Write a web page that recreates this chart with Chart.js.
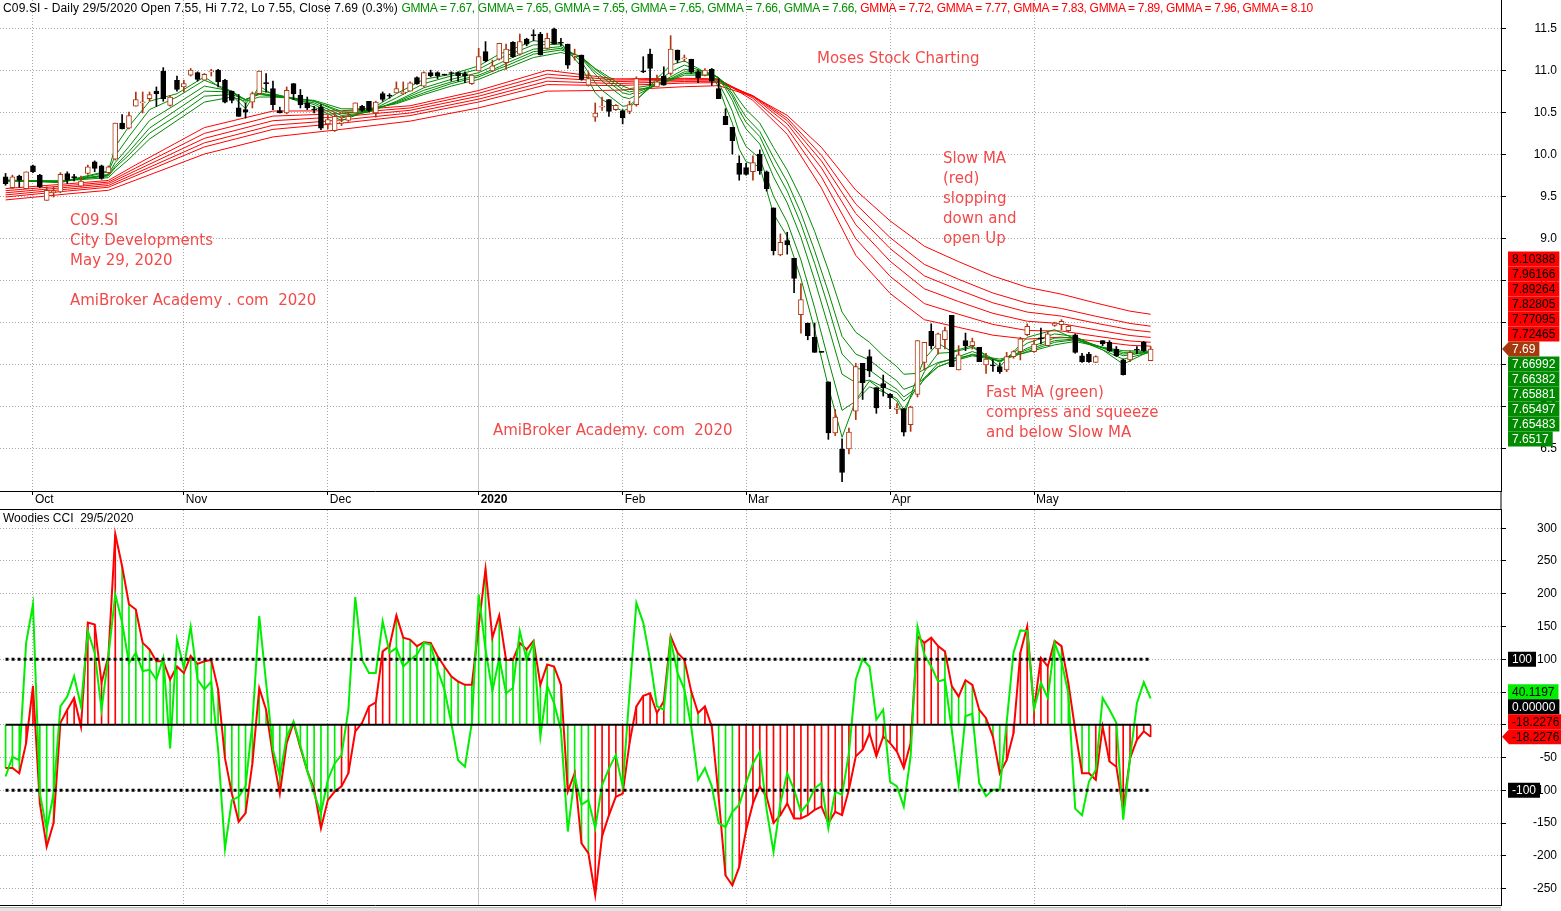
<!DOCTYPE html>
<html>
<head>
<meta charset="utf-8">
<title>C09.SI - GMMA and Woodies CCI</title>
<script src="https://cdn.jsdelivr.net/npm/chart.js@4.4.1/dist/chart.umd.min.js"></script>
<style>
  html, body { margin: 0; padding: 0; background: #fff; }
  #wrap { position: relative; width: 1561px; height: 911px; overflow: hidden; font-family: "Liberation Sans", Arial, sans-serif; }
  canvas { position: absolute; left: 0; }
  #priceChart { top: 0; }
  #cciChart { top: 510px; }
  .hdr { position: absolute; left: 3px; font-size: 12px; line-height: 14px; white-space: pre; color: #000; z-index: 2; }
  .hdr .lead { letter-spacing: 0.15px; }
  .g { color: #009000; letter-spacing: -0.3px; }
  .r { color: #ff0000; letter-spacing: -0.3px; }
  .note { position: absolute; color: #f24a4a; font: 15px "DejaVu Sans", sans-serif; line-height: 20px; white-space: pre; z-index: 2; }
  #scroll { position: absolute; left: 0; top: 907px; width: 1501px; height: 4px; background: #e4e4e4; border-top: 1px solid #b0b0b0; }
</style>
</head>
<body>
<div id="wrap">
  <canvas id="priceChart" width="1561" height="510"></canvas>
  <canvas id="cciChart" width="1561" height="401"></canvas>
  <div id="scroll"></div>
  <div class="hdr" id="priceTitle" style="top:1px"></div>
  <div class="hdr" id="cciTitle" style="top:511px"></div>

  <div class="note" style="left:817px;top:48px">Moses Stock Charting</div>
  <div class="note" style="left:943px;top:148px">Slow MA
(red)
slopping
down and
open Up</div>
  <div class="note" style="left:70px;top:210px">C09.SI
City Developments
May 29, 2020</div>
  <div class="note" style="left:70px;top:290px">AmiBroker Academy . com  2020</div>
  <div class="note" style="left:493px;top:420px">AmiBroker Academy. com  2020</div>
  <div class="note" style="left:986px;top:382px">Fast MA (green)
compress and squeeze
and below Slow MA</div>
</div>

<script>
// ---- data ----
const ticker = 'C09.SI';
const lastDate = '29/5/2020';

const monthBars = [4, 26, 47, 69, 90, 108, 129, 150];
const monthLabels = ['Oct', 'Nov', 'Dec', '2020', 'Feb', 'Mar', 'Apr', 'May'];
const priceTicks = [6.5, 7.0, 7.5, 8.0, 8.5, 9.0, 9.5, 10.0, 10.5, 11.0, 11.5];
const cciTicks = [-250, -200, -150, -100, -50, 0, 50, 100, 150, 200, 250, 300];
const cciLevels = [100, -100];

const opens = [
  9.74, 9.61, 9.75, 9.60, 9.87, 9.76, 9.46, 9.55, 9.56, 9.78,
  9.73, 9.63, 9.78, 9.92, 9.87, 9.79, 9.95, 10.38, 10.32, 10.58,
  10.62, 10.67, 10.76, 11.00, 10.59, 10.89, 10.81, 10.95, 10.98, 10.89,
  10.99, 11.01, 10.89, 10.76, 10.56, 10.54, 10.63, 10.73, 10.86, 10.79,
  10.53, 10.50, 10.85, 10.71, 10.62, 10.54, 10.57, 10.37, 10.29, 10.38,
  10.41, 10.50, 10.58, 10.64, 10.50, 10.73, 10.70, 10.74, 10.73, 10.76,
  10.92, 10.82, 10.98, 10.98, 10.95, 10.97, 10.98, 10.97, 10.85, 11.00,
  11.23, 11.00, 11.14, 11.10, 11.34, 11.20, 11.38, 11.42, 11.44, 11.27,
  11.50, 11.33, 11.32, 11.18, 11.19, 10.83, 10.45, 10.57, 10.66, 10.54,
  10.52, 10.52, 10.60, 10.99, 11.20, 10.81, 10.94, 10.97, 11.25, 11.145,
  11.14, 10.99, 10.95, 11.02, 10.79, 10.46, 10.33, 9.90, 9.85, 9.80,
  10.01, 9.80, 9.37, 8.81, 8.98, 8.77, 8.10, 8.00, 7.83, 7.65,
  7.30, 6.69, 6.50, 6.50, 6.95, 7.52, 7.60, 7.23, 7.28, 7.15,
  6.97, 6.98, 6.79, 7.15, 7.53, 7.90, 7.69, 7.80, 8.09, 7.44,
  7.79, 7.73, 7.71, 7.50, 7.49, 7.48, 7.44, 7.60, 7.66, 7.86,
  7.66, 7.81, 7.73, 7.97, 7.98, 7.91, 7.86, 7.61, 7.63, 7.53,
  7.79, 7.77, 7.69, 7.56, 7.56, 7.675, 7.77, 7.55
];
const highs = [
  9.78, 9.76, 9.76, 9.80, 9.88, 9.77, 9.62, 9.62, 9.79, 9.80,
  9.77, 9.75, 9.88, 9.93, 9.88, 9.87, 10.38, 10.48, 10.51, 10.75,
  10.75, 10.75, 10.81, 11.04, 10.71, 10.94, 10.89, 11.03, 10.99, 10.97,
  11.02, 11.02, 10.90, 10.76, 10.72, 10.62, 10.75, 11.00, 10.97, 10.88,
  10.57, 10.81, 10.85, 10.78, 10.69, 10.58, 10.60, 10.47, 10.50, 10.44,
  10.50, 10.62, 10.59, 10.64, 10.64, 10.75, 10.73, 10.87, 10.87, 10.87,
  10.93, 10.99, 11.01, 10.99, 10.95, 10.99, 10.99, 10.99, 10.95, 11.27,
  11.35, 11.13, 11.33, 11.32, 11.35, 11.44, 11.39, 11.49, 11.46, 11.45,
  11.51, 11.39, 11.32, 11.26, 11.19, 10.99, 10.62, 10.69, 10.66, 10.60,
  10.54, 10.64, 10.93, 11.17, 11.26, 10.95, 11.05, 11.42, 11.25, 11.19,
  11.14, 11.01, 11.03, 11.03, 10.91, 10.55, 10.33, 9.99, 9.90, 9.99,
  10.06, 9.81, 9.37, 9.06, 9.08, 8.77, 8.47, 8.00, 8.00, 7.65,
  7.30, 6.97, 6.62, 6.75, 7.52, 7.52, 7.68, 7.23, 7.38, 7.16,
  7.04, 6.98, 7.01, 7.79, 7.77, 7.99, 7.88, 7.95, 8.09, 7.73,
  7.88, 7.82, 7.71, 7.64, 7.56, 7.52, 7.65, 7.67, 7.83, 7.99,
  7.79, 7.94, 7.90, 8.01, 8.04, 7.97, 7.87, 7.64, 7.65, 7.61,
  7.79, 7.79, 7.72, 7.57, 7.67, 7.72, 7.78, 7.72
];
const lows = [
  9.64, 9.60, 9.62, 9.60, 9.79, 9.61, 9.46, 9.50, 9.55, 9.66,
  9.69, 9.62, 9.77, 9.80, 9.71, 9.78, 9.94, 10.31, 10.31, 10.58,
  10.50, 10.64, 10.58, 10.64, 10.58, 10.76, 10.75, 10.94, 10.88, 10.89,
  10.94, 10.81, 10.62, 10.62, 10.46, 10.44, 10.56, 10.72, 10.75, 10.54,
  10.50, 10.49, 10.66, 10.56, 10.54, 10.50, 10.30, 10.31, 10.28, 10.35,
  10.40, 10.50, 10.52, 10.52, 10.45, 10.64, 10.675, 10.74, 10.72, 10.76,
  10.84, 10.81, 10.93, 10.91, 10.95, 10.88, 10.88, 10.86, 10.84, 11.00,
  11.11, 10.99, 11.13, 11.02, 11.16, 11.19, 11.30, 11.36, 11.19, 11.26,
  11.32, 11.30, 11.03, 11.13, 10.89, 10.82, 10.40, 10.53, 10.46, 10.53,
  10.37, 10.49, 10.58, 10.98, 10.83, 10.81, 10.83, 10.95, 11.10, 11.11,
  10.97, 10.86, 10.94, 10.83, 10.67, 10.36, 10.01, 9.70, 9.76, 9.70,
  9.77, 9.57, 8.81, 8.80, 8.82, 8.36, 7.88, 7.80, 7.65, 7.65,
  6.615, 6.66, 6.11, 6.44, 6.85, 7.09, 7.36, 6.925, 7.13, 6.98,
  6.92, 6.655, 6.71, 7.12, 7.44, 7.69, 7.63, 7.69, 7.48, 7.44,
  7.67, 7.69, 7.54, 7.40, 7.425, 7.40, 7.42, 7.58, 7.56, 7.85,
  7.65, 7.75, 7.73, 7.96, 7.92, 7.89, 7.64, 7.53, 7.53, 7.53,
  7.73, 7.66, 7.60, 7.38, 7.54, 7.635, 7.66, 7.55
];
const closes = [
  9.66, 9.74, 9.70, 9.80, 9.80, 9.62, 9.58, 9.57, 9.77, 9.70,
  9.73, 9.69, 9.86, 9.84, 9.72, 9.86, 10.38, 10.31, 10.47, 10.66,
  10.63, 10.72, 10.73, 10.67, 10.69, 10.78, 10.85, 11.01, 10.90, 10.96,
  11.00, 10.87, 10.63, 10.65, 10.46, 10.51, 10.73, 11.00, 10.85, 10.60,
  10.50, 10.77, 10.73, 10.60, 10.56, 10.535, 10.32, 10.42, 10.46, 10.385,
  10.46, 10.62, 10.53, 10.53, 10.63, 10.66, 10.70, 10.79, 10.75, 10.86,
  10.85, 10.98, 10.94, 10.94, 10.95, 10.97, 10.94, 10.94, 10.95, 11.17,
  11.12, 11.06, 11.33, 11.26, 11.17, 11.35, 11.32, 11.42, 11.19, 11.39,
  11.32, 11.33, 11.07, 11.19, 10.90, 10.91, 10.50, 10.575, 10.52, 10.59,
  10.44, 10.60, 10.91, 10.99, 11.03, 10.87, 10.83, 11.26, 11.13, 11.15,
  10.99, 10.92, 11.01, 10.88, 10.67, 10.36, 10.17, 9.77, 9.77, 9.91,
  9.81, 9.60, 8.86, 8.96, 8.93, 8.53, 8.28, 7.85, 7.65, 7.65,
  6.69, 6.88, 6.22, 6.70, 7.48, 7.29, 7.43, 6.99, 7.23, 7.11,
  6.99, 6.70, 7.00, 7.79, 7.77, 7.73, 7.87, 7.91, 7.48, 7.62,
  7.73, 7.78, 7.54, 7.57, 7.49, 7.42, 7.60, 7.66, 7.81, 7.96,
  7.75, 7.81, 7.87, 8.00, 8.02, 7.96, 7.65, 7.54, 7.54, 7.60,
  7.75, 7.67, 7.61, 7.385, 7.65, 7.675, 7.67, 7.69
];

// fast GMMA (green), read at these bars
const gmmaFastBars = [0, 8, 15, 16, 18, 21, 25, 29, 33, 35, 37, 39, 41, 45, 49, 53, 57, 61, 65, 69,
  72, 73, 77, 81, 84, 86, 87, 90, 91, 95, 97, 99, 103, 104, 105, 106, 107, 108, 110, 112,
  114, 116, 118, 120, 122, 124, 126, 128, 130, 131, 133, 134, 136, 138, 141, 145, 149, 153, 156, 160,
  163, 167];
const gmma3 = [9.69, 9.68, 9.81, 10.10, 10.34, 10.64, 10.73, 10.93, 10.71, 10.55, 10.82, 10.72, 10.69, 10.57, 10.41,
  10.53, 10.73, 10.90, 10.96, 11.06, 11.20, 11.23, 11.36, 11.33, 11.05, 10.74, 10.66, 10.52, 10.56, 10.91,
  11.07, 11.12, 10.94, 10.81, 10.58, 10.38, 10.07, 9.92, 9.86, 9.30, 9.03, 8.53, 7.92, 7.24, 6.64,
  7.08, 7.31, 7.19, 7.07, 6.89, 7.37, 7.57, 7.76, 7.66, 7.73, 7.48, 7.83, 7.92, 7.81, 7.68, 7.51, 7.66992];
const gmma5 = [9.70, 9.67, 9.80, 9.99, 10.22, 10.54, 10.69, 10.89, 10.76, 10.61, 10.77, 10.73, 10.69, 10.60, 10.44,
  10.52, 10.68, 10.85, 10.94, 11.02, 11.15, 11.18, 11.31, 11.32, 11.11, 10.86, 10.77, 10.58, 10.59, 10.87,
  10.99, 11.07, 10.96, 10.86, 10.70, 10.52, 10.27, 10.10, 9.96, 9.51, 9.20, 8.75, 8.18, 7.56, 6.96,
  7.07, 7.24, 7.18, 7.10, 6.97, 7.25, 7.42, 7.64, 7.65, 7.71, 7.53, 7.76, 7.87, 7.84, 7.68, 7.57, 7.6517];
const gmma8 = [9.70, 9.68, 9.77, 9.91, 10.10, 10.41, 10.61, 10.82, 10.76, 10.65, 10.74, 10.71, 10.68, 10.62, 10.47,
  10.51, 10.64, 10.80, 10.90, 10.98, 11.09, 11.13, 11.26, 11.29, 11.15, 10.96, 10.88, 10.69, 10.67, 10.84,
  10.93, 11.02, 10.97, 10.91, 10.79, 10.65, 10.46, 10.31, 10.13, 9.74, 9.43, 9.02, 8.51, 7.96, 7.39,
  7.29, 7.32, 7.24, 7.17, 7.07, 7.22, 7.34, 7.52, 7.57, 7.66, 7.54, 7.70, 7.82, 7.83, 7.70, 7.61, 7.65483];
const gmma10 = [9.70, 9.69, 9.76, 9.87, 10.04, 10.32, 10.54, 10.76, 10.75, 10.66, 10.73, 10.70, 10.69, 10.64, 10.50,
  10.52, 10.63, 10.77, 10.87, 10.95, 11.05, 11.09, 11.23, 11.27, 11.16, 10.99, 10.93, 10.74, 10.72, 10.83,
  10.91, 10.99, 10.97, 10.92, 10.82, 10.70, 10.53, 10.39, 10.22, 9.87, 9.57, 9.18, 8.71, 8.19, 7.63,
  7.46, 7.44, 7.32, 7.21, 7.12, 7.23, 7.33, 7.48, 7.54, 7.63, 7.55, 7.68, 7.79, 7.81, 7.71, 7.63, 7.65497];
const gmma12 = [9.69, 9.69, 9.75, 9.85, 10.00, 10.26, 10.47, 10.70, 10.72, 10.66, 10.72, 10.70, 10.69, 10.64, 10.52,
  10.53, 10.62, 10.74, 10.85, 10.93, 11.03, 11.06, 11.20, 11.25, 11.17, 11.02, 10.96, 10.78, 10.75, 10.83,
  10.90, 10.97, 10.96, 10.92, 10.84, 10.73, 10.58, 10.45, 10.28, 9.97, 9.68, 9.31, 8.86, 8.37, 7.84,
  7.63, 7.56, 7.43, 7.31, 7.21, 7.27, 7.35, 7.48, 7.54, 7.61, 7.55, 7.66, 7.77, 7.80, 7.71, 7.65, 7.65881];
const gmma15 = [9.69, 9.69, 9.73, 9.81, 9.95, 10.19, 10.41, 10.63, 10.69, 10.64, 10.69, 10.69, 10.68, 10.65, 10.55,
  10.55, 10.61, 10.72, 10.82, 10.90, 11.00, 11.03, 11.16, 11.22, 11.16, 11.03, 10.98, 10.82, 10.79, 10.84,
  10.89, 10.95, 10.95, 10.92, 10.85, 10.77, 10.65, 10.54, 10.38, 10.09, 9.82, 9.49, 9.09, 8.63, 8.13,
  7.89, 7.77, 7.61, 7.48, 7.39, 7.40, 7.45, 7.53, 7.57, 7.62, 7.57, 7.65, 7.74, 7.78, 7.71, 7.67, 7.66382];

// slow GMMA (red), read at these bars
const gmmaSlowBars = [0, 9, 15, 19, 29, 39, 49, 59, 69, 79, 89, 99, 104, 109, 114, 119, 124, 129, 134, 139,
  144, 149, 154, 159, 164, 167];
const gmma30 = [9.60, 9.656, 9.697, 9.883, 10.326, 10.523, 10.526, 10.586, 10.768, 11.008, 10.906, 10.913, 10.906,
  10.649, 10.246, 9.605, 8.805, 8.352, 8.039, 7.948, 7.855, 7.808, 7.832, 7.783, 7.734, 7.72465];
const gmma35 = [9.575, 9.635, 9.677, 9.846, 10.257, 10.463, 10.492, 10.560, 10.734, 10.963, 10.892, 10.904, 10.900,
  10.676, 10.316, 9.737, 9.003, 8.556, 8.231, 8.104, 7.983, 7.910, 7.905, 7.844, 7.786, 7.77095];
const gmma40 = [9.55, 9.615, 9.658, 9.814, 10.198, 10.408, 10.456, 10.532, 10.700, 10.921, 10.873, 10.892, 10.892,
  10.695, 10.371, 9.845, 9.170, 8.736, 8.407, 8.255, 8.115, 8.021, 7.992, 7.919, 7.851, 7.82805];
const gmma45 = [9.525, 9.593, 9.637, 9.782, 10.144, 10.354, 10.417, 10.500, 10.665, 10.878, 10.850, 10.875, 10.878,
  10.703, 10.410, 9.928, 9.303, 8.887, 8.561, 8.394, 8.240, 8.130, 8.082, 7.998, 7.920, 7.89264];
const gmma50 = [9.50, 9.571, 9.616, 9.753, 10.096, 10.305, 10.379, 10.469, 10.631, 10.838, 10.825, 10.856, 10.862,
  10.706, 10.439, 9.996, 9.416, 9.017, 8.697, 8.520, 8.357, 8.236, 8.173, 8.080, 7.995, 7.96166];
const gmma60 = [9.465, 9.536, 9.580, 9.702, 10.011, 10.215, 10.305, 10.403, 10.561, 10.760, 10.771, 10.813, 10.825,
  10.698, 10.472, 10.089, 9.581, 9.216, 8.914, 8.730, 8.559, 8.425, 8.343, 8.238, 8.141, 8.10388];

// Woodies CCI: turbo line (green) and CCI line (red), one value per bar
const cciTurbo = [
  -79, -49, -54, 125, 184, -105, -160, -105, 28, 43,
  74, 28, 143, 110, 23, 105, 199, 156, 94, 110,
  82, 84, 69, 102, -36, 130, 87, 150, 69, 54,
  66, -38, -189, -115, -110, -94, 3, 166, 64, -38,
  -79, -18, 5, -32, -70, -105, -135, -84, -59, -46,
  23, 195, 99, 79, 79, 158, 110, 117, 89, 99,
  107, 125, 122, 84, 54, 3, -54, -64, 3, 199,
  115, 51, 102, 48, 56, 143, 99, 125, -18, 59,
  33, -8, -163, -79, -122, -115, -158, -92, -67, -46,
  -94, 48, 186, 156, 99, 28, 23, 130, 79, 54,
  -3, -84, -66, -94, -150, -156, -133, -122, -89, -59,
  -41, -130, -194, -120, -74, -99, -133, -120, -97, -89,
  -158, -102, -107, -43, 69, 100, 89, 8, 23, -87,
  -94, -125, -48, 150, 107, 89, 66, 69, -8, -92,
  13, 17, -89, -109, -99, -99, 3, 110, 144, 143,
  24, 64, 41, 125, 97, 48, -128, -138, -87, -69,
  41, 23, 3, -145, -51, 33, 65, 40.1197
];
const cci14 = [
  -66, -66, -74, -28, 59, -120, -186, -150, 3, 23,
  41, -3, 156, 153, 64, 105, 291, 242, 184, 176,
  125, 115, 97, 97, 69, 89, 79, 105, 93, 97,
  99, 54, -51, -105, -148, -135, -59, 56, 23, -48,
  -105, -28, 3, -35, -70, -99, -158, -115, -102, -94,
  -74, -10, 3, 28, 34, 112, 120, 167, 133, 130,
  120, 126, 125, 105, 89, 74, 66, 61, 61, 150,
  238, 133, 167, 99, 99, 125, 115, 128, 61, 92,
  89, 61, -102, -74, -181, -196, -260, -170, -138, -110,
  -105, -28, 28, 44, 48, 18, 36, 135, 110, 99,
  51, 18, 28, -3, -110, -230, -245, -217, -161, -120,
  -94, -110, -150, -138, -120, -143, -143, -138, -130, -125,
  -150, -133, -138, -99, -48, -38, -13, -48, -18, -28,
  -41, -66, -28, 135, 125, 133, 120, 112, 59, 43,
  68, 61, 23, 10, -18, -74, -54, -13, 110, 150,
  23, 102, 89, 128, 120, 64, -8, -74, -74, -84,
  -3, -56, -64, -130, -51, -23, -10, -18.2276
];
// histogram colour per bar: G = green, R = red
const histSide = (
  'GGGRRGGGRRRRRRRRRGGGGGGGGG' +      // Oct
  'GGGGGGGGGGGGGGGGGGGGG' +           // Nov
  'GGRRRRRRRRGGGGGGGGGGGG' +          // Dec
  'GGGGGGGGGGGGGGGGGRRRR' +           // Jan
  'RRRRRRRGGGGGRGGGGR' +              // Feb
  'RRRRRRRRRRRRRRRRRRRRR' +           // Mar
  'RRRRRRRRGGGGGGGGGRRRR' +           // Apr
  'RRRGGGGGGRRRRRRRR'                 // May
).split('');

// ---- view ----
const FONT = '"Liberation Sans", Arial, sans-serif';
const xMin = -0.81, xMax = 218.1;
const UP = '#ac3812';
const FAST_GREEN = '#008a00';
const bars = closes.map((_, i) => i);
const lastOf = a => a[a.length - 1];
const fastSets = [gmma3, gmma5, gmma8, gmma10, gmma12, gmma15];
const slowSets = [gmma30, gmma35, gmma40, gmma45, gmma50, gmma60];

Chart.defaults.font.family = FONT;
Chart.defaults.font.size = 12;
Chart.defaults.color = '#000';

// header texts
(function () {
  const n = closes.length - 1;
  const chg = (closes[n] - closes[n - 1]) / closes[n - 1] * 100;
  const items = [];
  fastSets.forEach(s => items.push(['g', lastOf(s)]));
  slowSets.forEach(s => items.push(['r', lastOf(s)]));
  const parts = items.map(([c, v], i) =>
    '<span class="' + c + '">GMMA = ' + v.toFixed(2) + (i < items.length - 1 ? ', ' : '') + '</span>');
  document.getElementById('priceTitle').innerHTML =
    '<span class="lead">' + ticker + ' - Daily ' + lastDate + ' Open ' + opens[n].toFixed(2) +
    ', Hi ' + highs[n].toFixed(2) + ', Lo ' + lows[n].toFixed(2) + ', Close ' + closes[n].toFixed(2) +
    ' (' + chg.toFixed(1) + '%) </span>' + parts.join('');
  document.getElementById('cciTitle').textContent = 'Woodies CCI  ' + lastDate;
})();

function tagText(v) {
  let s = v.toFixed(5);
  if (v !== 0) s = s.replace(/0+$/, '').replace(/\.$/, '');
  return s;
}

function drawTag(ctx, x0, y, text, bg, fg, arrow) {
  ctx.font = '12px ' + FONT;
  const w = ctx.measureText(text).width;
  const right = Math.min(ctx.canvas.width, x0 + 11 + w + 4);
  ctx.fillStyle = bg;
  ctx.beginPath();
  if (arrow) {
    ctx.moveTo(x0 + 1, y);
    ctx.lineTo(x0 + 8, y - 7.5);
    ctx.lineTo(right, y - 7.5);
    ctx.lineTo(right, y + 7.5);
    ctx.lineTo(x0 + 8, y + 7.5);
  } else {
    ctx.rect(x0 + 7, y - 7.5, right - x0 - 7, 15);
  }
  ctx.closePath();
  ctx.fill();
  ctx.fillStyle = fg;
  ctx.textAlign = 'left';
  ctx.textBaseline = 'middle';
  ctx.fillText(text, x0 + 11, y + 0.5);
}

const isYear = c => c.tick && /^\d{4}$/.test(c.tick.label);

function xScale(showLabels) {
  return {
    type: 'linear', min: xMin, max: xMax, offset: false,
    afterBuildTicks: s => { s.ticks = monthBars.map(v => ({ value: v })); },
    afterFit: s => { s.height = showLabels ? 19 : 6; s.paddingLeft = 0; s.paddingRight = 0; },
    ticks: {
      display: showLabels, autoSkip: false, maxRotation: 0, minRotation: 0,
      align: 'start', labelOffset: 2, padding: -3, color: '#000',
      callback: v => monthLabels[monthBars.indexOf(v)] || '',
      font: c => ({ family: FONT, size: 12, weight: isYear(c) ? 'bold' : 'normal' })
    },
    grid: {
      offset: false, drawTicks: showLabels, tickLength: 4, tickColor: '#000',
      color: c => isYear(c) ? '#c8c8c8' : '#a8a8a8'
    },
    border: { color: '#000', dash: c => isYear(c) ? [] : [1, 2] }
  };
}

function yScale(min, max, ticks, fmt, pad) {
  return {
    position: 'right', min: min, max: max,
    afterBuildTicks: s => { s.ticks = ticks.map(v => ({ value: v })); },
    afterFit: s => { s.width = 56; s.paddingTop = 0; s.paddingBottom = 0; },
    ticks: { callback: fmt, crossAlign: 'far', padding: pad, color: '#000', font: { family: FONT, size: 12 } },
    grid: { color: '#a8a8a8', tickColor: '#000', tickLength: 5 },
    border: { color: '#000', dash: [1, 2] }
  };
}

function lineSet(xs, ys, color, width, order) {
  return {
    type: 'line',
    data: xs.map((x, i) => ({ x: x, y: ys[i] })),
    borderColor: color, borderWidth: width, pointRadius: 0, pointHitRadius: 0,
    tension: 0, fill: false, order: order
  };
}

// ---- price pane ----
const priceExtras = {
  id: 'priceExtras',
  afterDraw(chart) {
    const { ctx, chartArea: a, scales: { y } } = chart;
    ctx.save();
    ctx.fillStyle = '#000';
    ctx.fillRect(0, chart.height - 1, a.right + 1, 1);
    ctx.fillRect(a.right - 0.5, a.bottom, 1, chart.height - a.bottom);
    const n = closes.length - 1;
    const y0 = y.getPixelForValue(closes[n]);
    const slow = slowSets.map(lastOf).sort((p, q) => p - q);
    const fast = fastSets.map(lastOf).sort((p, q) => q - p);
    slow.forEach((v, k) => drawTag(ctx, a.right, y0 - 15 * (k + 1), tagText(v), '#ff0000', '#000', false));
    fast.forEach((v, k) => drawTag(ctx, a.right, y0 + 15 * (k + 1), tagText(v), FAST_GREEN, '#fff', false));
    drawTag(ctx, a.right, y0, closes[n].toFixed(2), '#a63a0e', '#fff', true);
    ctx.restore();
  }
};

const priceDatasets = [
  {
    type: 'bar',
    data: bars.map(i => ({ x: i, y: [opens[i], closes[i]] })),
    backgroundColor: bars.map(i => closes[i] > opens[i] ? '#ffffff' : '#000000'),
    borderColor: bars.map(i => closes[i] > opens[i] ? UP : '#000000'),
    borderWidth: 1, borderSkipped: false, barThickness: 5, minBarLength: 1, grouped: false, order: 0
  },
  {
    type: 'bar',
    data: bars.map(i => ({ x: i, y: [lows[i], highs[i]] })),
    backgroundColor: bars.map(i => closes[i] > opens[i] ? UP : '#000000'),
    borderWidth: 0, barThickness: 1, minBarLength: 1, grouped: false, order: 1
  }
];
fastSets.forEach(s => priceDatasets.push(lineSet(gmmaFastBars, s, FAST_GREEN, 1, 2)));
slowSets.forEach(s => priceDatasets.push(lineSet(gmmaSlowBars, s, '#ff0000', 1, 3)));

new Chart(document.getElementById('priceChart'), {
  type: 'bar',
  data: { datasets: priceDatasets },
  options: {
    responsive: false, animation: false, devicePixelRatio: 1,
    layout: { padding: { left: 0, top: 0, right: 4, bottom: 0 } },
    plugins: { legend: { display: false }, tooltip: { enabled: false } },
    scales: {
      x: xScale(true),
      y: yScale(6.0, 11.845, priceTicks, v => v.toFixed(1), 27.5)
    }
  },
  plugins: [priceExtras]
});

// ---- Woodies CCI pane ----
const histColor = i => histSide[i] === 'G' ? '#00ee00' : '#ff0000';

const cciExtras = {
  id: 'cciExtras',
  afterDraw(chart) {
    const { ctx, chartArea: a, scales: { y } } = chart;
    ctx.save();
    cciLevels.forEach(v => drawTag(ctx, a.right, y.getPixelForValue(v), tagText(v), '#000', '#fff', false));
    const n = cci14.length - 1;
    const stack = [
      { v: cciTurbo[n], bg: '#00ee00', fg: '#000' },
      { v: 0, bg: '#000', fg: '#fff' },
      { v: cci14[n], bg: histColor(n), fg: '#000' },
      { v: cci14[n], bg: '#ff0000', fg: '#000', arrow: true }
    ];
    const yb = y.getPixelForValue(Math.min.apply(null, stack.map(s => s.v)));
    stack.forEach((s, k) => drawTag(ctx, a.right, yb - 15 * (stack.length - 1 - k), tagText(s.v), s.bg, s.fg, s.arrow));
    ctx.restore();
  }
};

const lastBar = bars.length - 1;
const cciDatasets = [
  {
    type: 'bar',
    data: bars.map(i => ({ x: i, y: cci14[i] })),
    backgroundColor: bars.map(histColor),
    borderWidth: 0, barThickness: 1, grouped: false, order: 5
  },
  lineSet(bars, cci14, '#ff0000', 2, 3),
  lineSet(bars, cciTurbo, '#00ee00', 2, 2),
  lineSet([0, lastBar], [0, 0], '#000', 2, 1)
];
cciLevels.forEach(v => {
  const d = lineSet([0, lastBar], [v, v], '#000', 3, 0);
  d.borderDash = [3, 3];
  cciDatasets.push(d);
});

new Chart(document.getElementById('cciChart'), {
  type: 'bar',
  data: { datasets: cciDatasets },
  options: {
    responsive: false, animation: false, devicePixelRatio: 1,
    layout: { padding: { left: 0, top: 0, right: 4, bottom: 0 } },
    plugins: { legend: { display: false }, tooltip: { enabled: false } },
    scales: {
      x: xScale(false),
      y: yScale(-275.1, 327.8, cciTicks, v => String(v), 27)
    }
  },
  plugins: [cciExtras]
});
</script>
</body>
</html>
